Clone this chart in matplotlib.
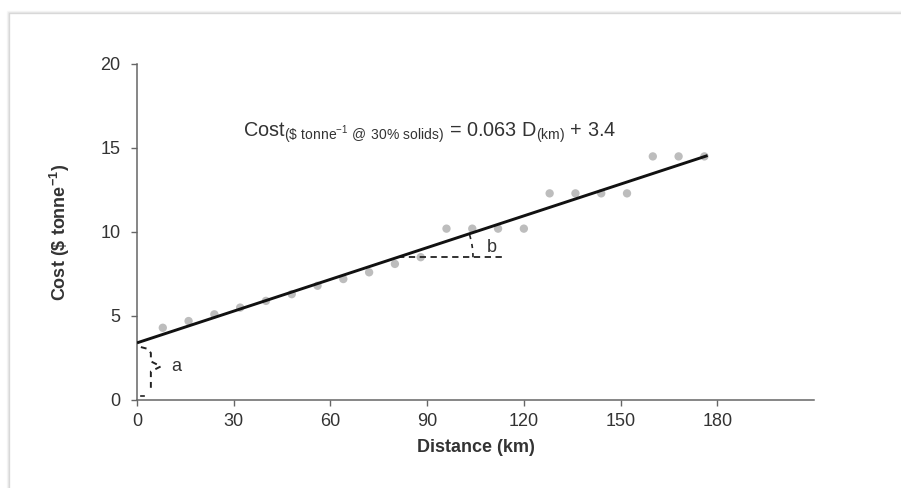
import numpy as np
import matplotlib
matplotlib.use("Agg")
import matplotlib.pyplot as plt
from matplotlib.patches import Arc, Rectangle
from matplotlib.transforms import ScaledTranslation

plt.rcParams['font.family'] = ['Liberation Sans', 'DejaVu Sans']
plt.rcParams['mathtext.fontset'] = 'custom'
plt.rcParams['mathtext.rm'] = 'Liberation Sans'

# observed cost points (km, $/tonne)
distance_km = [8, 16, 24, 32, 40, 48, 56, 64, 72, 80, 88,
               96, 104, 112, 120, 128, 136, 144, 152, 160, 168, 176]
cost = [4.3, 4.7, 5.1, 5.5, 5.9, 6.3, 6.8, 7.2, 7.6, 8.1, 8.5,
        10.2, 10.2, 10.2, 10.2, 12.3, 12.3, 12.3, 12.3, 14.5, 14.5, 14.5]

# fitted line: cost = slope * D + intercept
slope = 0.063
intercept = 3.4
fit_range = [0, 177]

x_ticks = [0, 30, 60, 90, 120, 150, 180]
y_ticks = [0, 5, 10, 15, 20]

TXT = "#333333"

fig = plt.figure(figsize=(9.01, 4.88), dpi=100)

# screenshot frame with soft shadow
for i, a in enumerate([0.35, 0.18, 0.08]):
    fig.patches.append(Rectangle((9 / 901 - i / 901, -0.1), 1.2, (488 - 13 + 0.1 * 488) / 488 + i / 488,
                                 transform=fig.transFigure, fill=False,
                                 edgecolor="#9a9a9a", alpha=a, lw=1.0))

ax = fig.add_axes([137 / 901, 1 - 400 / 488, 677 / 901, 336 / 488])
ax.set_xlim(0, 210)
ax.set_ylim(0, 20)
for s in ["top", "right"]:
    ax.spines[s].set_visible(False)
for s in ["left", "bottom"]:
    ax.spines[s].set_color("#666666")
    ax.spines[s].set_linewidth(1.1)
ax.set_xticks(x_ticks)
ax.set_yticks(y_ticks)
ax.tick_params(direction="out", length=4, width=1, color="#666666",
               labelsize=13, labelcolor=TXT)
ax.tick_params(axis="x", pad=5)
ax.tick_params(axis="y", pad=8)

ax.set_xlabel("Distance (km)", fontsize=13, fontweight="bold", color=TXT, labelpad=7)
ax.set_ylabel(r"Cost (\$ tonne$^{\mathregular{-1}}$)", fontsize=13, fontweight="bold",
              color=TXT, labelpad=20)

ax.scatter(distance_km, cost, s=36, color="#bdbdbd", edgecolors="none", zorder=2)
fx = np.array(fit_range, dtype=float)
ax.plot(fx, slope * fx + intercept, color="#111111", lw=2.1, zorder=3,
        solid_capstyle="butt")

ax.text(33, 15.9,
        r"Cost$_{\mathregular{(\$\ tonne^{-1}\ @\ 30\%\ solids)}}$ = 0.063 D$_{\mathregular{(km)}}$ + 3.4",
        fontsize=14.3, color=TXT, va="center", ha="left")

# slope angle "b"
y0 = 8.5
x0 = (y0 - intercept) / slope
ax.plot([x0, 114.5], [y0, y0], color="#222222", lw=1.3, ls=(0, (3.5, 2.5)))
p0 = ax.transData.transform((0, intercept))
p1 = ax.transData.transform((100, slope * 100 + intercept))
ang = np.degrees(np.arctan2(p1[1] - p0[1], p1[0] - p0[0]))
arc = Arc((0, 0), 1.5, 1.5, theta1=0, theta2=ang, color="#222222", lw=1.2,
          ls=(0, (2.5, 3)),
          transform=fig.dpi_scale_trans + ScaledTranslation(x0, y0, ax.transData))
ax.add_patch(arc)
ax.text(108.5, 9.1, "b", fontsize=13, color=TXT, va="center", ha="left")

# intercept brace "a"
bx = [1.2, 3.2, 4.3, 4.3, 7.4, 4.3, 4.3]
by = [3.15, 3.05, 2.8, 2.3, 2.0, 1.7, 0.45]
ax.plot(bx, by, color="#222222", lw=1.4, ls=(0, (3, 2.5)), clip_on=False)
ax.plot([1.2, 2.3], [0.25, 0.25], color="#222222", lw=1.2)
ax.text(10.5, 2.0, "a", fontsize=13, color=TXT, va="center", ha="left")

fig.savefig("out.png", dpi=100)
